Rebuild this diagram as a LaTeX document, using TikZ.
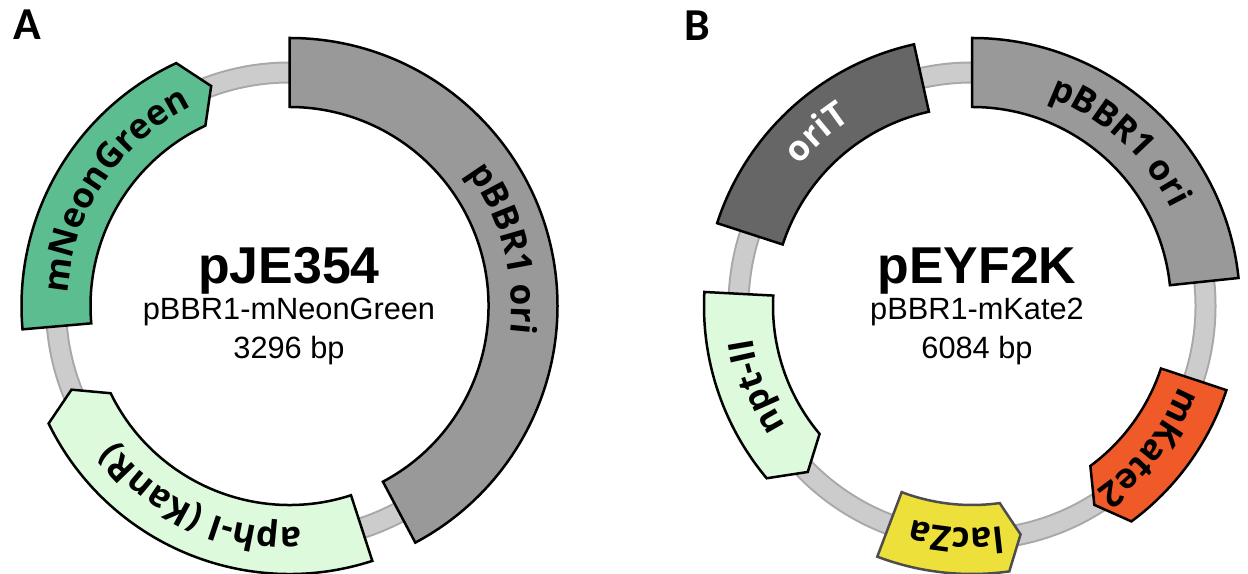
\documentclass[tikz,border=0pt]{standalone}
\usepackage{fontspec}
\usetikzlibrary{decorations.text}
\newfontfamily\labfont{Open Sans}
\newfontfamily\panelfont{Carlito}
\newfontfamily\arialfont{Liberation Sans}
\definecolor{neon}{RGB}{92,190,144}
\definecolor{kan}{RGB}{221,250,221}
\definecolor{origray}{RGB}{153,153,153}
\definecolor{oritgray}{RGB}{102,102,102}
\definecolor{kate}{RGB}{240,90,40}
\definecolor{lacy}{RGB}{238,224,58}
\definecolor{ringfill}{RGB}{204,204,204}
\definecolor{ringedge}{RGB}{168,168,168}
\definecolor{lacedge}{RGB}{77,77,77}
\newcommand\featlab{\labfont\bfseries\fontsize{20}{20}\selectfont}
% flat-ended feature: start angle, end angle, style
\newcommand\flatfeat[3]{\path[#3] (#1:268) arc[start angle=#1,end angle=#2,radius=268] -- (#2:199) arc[start angle=#2,end angle=#1,radius=199] -- cycle;}
% arrow feature: flat start, shoulder, tip, style
\newcommand\arrowfeat[4]{\path[#4] (#1:268) arc[start angle=#1,end angle=#2,radius=268] -- (#3:233.5) -- (#2:199) arc[start angle=#2,end angle=#1,radius=199] -- cycle;}
% label along the arc (clockwise, tops outward): centre angle, text, colour
\newcommand\arclab[3]{\pgfmathsetmacro\plA{#1+45}\pgfmathsetmacro\plB{#1-45}\path[decorate,decoration={text along path,text align=center,text={|\featlab\color{#3}|#2}}] (\plA:222) arc[start angle=\plA,end angle=\plB,radius=222];}
\begin{document}
\begin{tikzpicture}[x=0.02cm,y=0.02cm,
  feat/.style={draw=black,line width=0.05cm,line join=miter},
  ringbg/.style={draw=ringedge,line width=0.44cm},
  ringfg/.style={draw=ringfill,line width=0.36cm},
  title/.style={font=\arialfont\bfseries\fontsize{29.5}{30}\selectfont,anchor=base},
  sub/.style={font=\arialfont\fontsize{17.5}{18}\selectfont,anchor=base},
  panel/.style={font=\panelfont\bfseries\fontsize{26}{26}\selectfont}]
\useasboundingbox (0,0) rectangle (1248,574);
\node[panel] (labA) at (27,549) {A};
\node[panel] (labB) at (697,548) {B};
% ---------------- plasmid A ----------------
\begin{scope}[shift={(289.5,268)}]
  \draw[ringbg] (0,0) circle[radius=233.5];
  \draw[ringfg] (0,0) circle[radius=233.5];
  \flatfeat{90}{-62}{feat,fill=origray}
  \arrowfeat{185}{115}{109.6}{feat,fill=neon}
  \arrowfeat{288}{206}{201}{feat,fill=kan}
  \arclab{15}{pBBR1 ori}{black}
  \arclab{146.5}{mNeonGreen}{black}
  \arclab{245.5}{aph-I (KanR)}{black}
\end{scope}
\node[title] (nameA) at (289,290) {pJE354};
\node[sub] (subA) at (289,254) {pBBR1-mNeonGreen};
\node[sub] (bpA) at (289,215) {3296 bp};
% ---------------- plasmid B ----------------
\begin{scope}[shift={(972,268)}]
  \draw[ringbg] (0,0) circle[radius=233.5];
  \draw[ringfg] (0,0) circle[radius=233.5];
  \flatfeat{90}{6}{feat,fill=origray}
  \flatfeat{162}{102.5}{feat,fill=oritgray}
  \arrowfeat{177}{220}{225.3}{feat,fill=kan}
  \arrowfeat{249.3}{278}{282}{feat,draw=lacedge,fill=lacy}
  \arrowfeat{341.7}{306.5}{301.6}{feat,fill=kate}
  \arclab{48}{pBBR1 ori}{black}
  \arclab{132}{oriT}{white}
  \arclab{200.5}{npt-II}{black}
  \arclab{266}{lacZa}{black}
  \arclab{321.5}{mKate2}{black}
\end{scope}
\node[title] (nameB) at (977,290) {pEYF2K};
\node[sub] (subB) at (977,254) {pBBR1-mKate2};
\node[sub] (bpB) at (977,215) {6084 bp};
\end{tikzpicture}
\end{document}
